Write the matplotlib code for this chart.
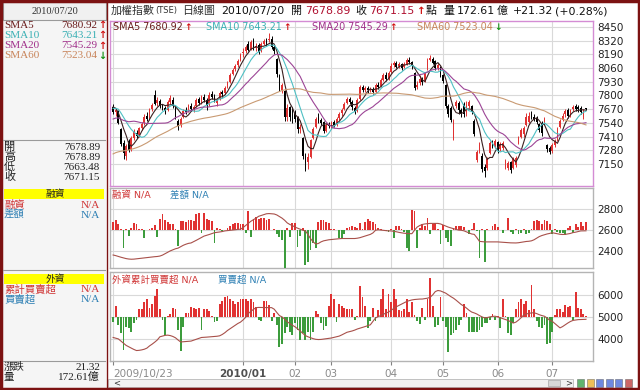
import numpy as np
import pandas as pd
import matplotlib
matplotlib.use('Agg')
import matplotlib.pyplot as plt
from matplotlib.patches import Rectangle

plt.rcParams['font.family'] = ['DejaVu Sans', 'Noto Sans CJK TC']

# ---------------- data ----------------
monthLabels = ['2009/10/23', '', '', '2010/01', '02', '03', '04', '05', '06', '07']
monthDays = [6, 21, 23, 20, 14, 23, 20, 21, 21, 14]

# closes before the visible window (only used to warm up the moving averages)
priorCloses = [6950, 7078,
               7000, 7020, 7080, 7050, 7000, 7010, 6950, 6920, 6880, 6850, 6780,
               6700, 6750, 6820, 6880, 6950, 7000, 6950, 6980, 6900, 6880,
               6850, 6900, 6950, 7050, 7150, 7200, 7250, 7300, 7350, 7400, 7450,
               7480, 7500, 7550, 7520, 7470, 7450, 7480, 7520, 7550, 7509,
               7450, 7400, 7350, 7400, 7500, 7600, 7650, 7620, 7700, 7650, 7700,
               7720, 7750, 7700, 7640]

opens = [7690, 7640, 7650, 7480, 7350, 7230,
         7370, 7290, 7400, 7440, 7420, 7490, 7540, 7610, 7580, 7670, 7800, 7730, 7750, 7700, 7680,
         7660, 7740, 7760, 7690, 7560, 7520,
         7600, 7660, 7650, 7700, 7660, 7700, 7770, 7730, 7790, 7760, 7720, 7810, 7790, 7730, 7770,
         7830, 7820, 7880, 7930, 8000, 8050, 8090, 8140,
         8200, 8220, 8290, 8240, 8330, 8250, 8280, 8220, 8290, 8320, 8330, 8340, 8260, 8150, 7990,
         7850, 7840, 7600, 7690, 7650,
         7620, 7600, 7480, 7400, 7230, 7170, 7220, 7400, 7500, 7600, 7570, 7550, 7460, 7520,
         7510, 7550, 7530, 7590, 7630, 7670, 7730, 7770, 7740, 7680, 7650, 7770, 7880, 7850, 7870,
         7850, 7860, 7830, 7900, 7890, 7950, 7990, 7960,
         8020, 8090, 8110, 8080, 8100, 8070, 8100, 8140, 8120, 8010, 7880, 7920, 7960, 7940, 8050,
         8140, 8150, 8130, 8060, 8060,
         7990, 7900, 7700, 7680, 7400, 7700, 7730, 7660, 7720, 7620, 7700, 7700, 7560, 7190, 7270,
         7230, 7120, 7110, 7250, 7350, 7320,
         7360, 7290, 7300, 7120, 7110, 7170, 7110, 7140, 7350, 7410, 7430, 7520, 7550, 7620, 7600,
         7590, 7530, 7540, 7530, 7330, 7300,
         7270, 7330, 7380, 7500, 7570, 7620, 7660, 7620, 7670, 7700, 7690, 7680, 7600, 7678.89]

highs = [7720, 7680, 7660, 7490, 7380, 7340,
         7390, 7420, 7480, 7470, 7500, 7550, 7620, 7640, 7680, 7730, 7850, 7790, 7770, 7720, 7700,
         7760, 7800, 7790, 7700, 7580, 7600,
         7670, 7690, 7720, 7730, 7710, 7780, 7790, 7800, 7810, 7780, 7830, 7840, 7810, 7780, 7840,
         7850, 7890, 7940, 8010, 8060, 8100, 8150, 8200,
         8250, 8280, 8320, 8330, 8350, 8300, 8300, 8310, 8340, 8350, 8395, 8360, 8280, 8160, 8000,
         7920, 7850, 7720, 7700, 7690,
         7660, 7610, 7530, 7410, 7250, 7250, 7390, 7500, 7600, 7630, 7590, 7560, 7540, 7550,
         7560, 7570, 7600, 7640, 7680, 7740, 7790, 7790, 7760, 7700, 7780, 7900, 7900, 7890, 7890,
         7880, 7880, 7920, 7930, 7970, 8010, 8020, 8030,
         8110, 8130, 8130, 8120, 8110, 8120, 8160, 8170, 8130, 8020, 7940, 7990, 7980, 8020, 8160,
         8180, 8170, 8140, 8110, 8080,
         8000, 7910, 7720, 7700, 7580, 7760, 7750, 7680, 7740, 7750, 7760, 7710, 7580, 7280, 7360,
         7250, 7150, 7220, 7370, 7380, 7390,
         7370, 7360, 7370, 7200, 7180, 7180, 7220, 7230, 7420, 7490, 7510, 7630, 7640, 7650, 7620,
         7610, 7540, 7560, 7600, 7340, 7320,
         7350, 7390, 7500, 7580, 7630, 7670, 7680, 7670, 7710, 7720, 7710, 7700, 7670, 7678.89]

lows = [7620, 7610, 7530, 7320, 7200, 7190,
        7260, 7270, 7380, 7400, 7410, 7470, 7520, 7560, 7570, 7650, 7710, 7700, 7680, 7660, 7620,
        7650, 7720, 7680, 7580, 7470, 7500,
        7590, 7620, 7640, 7650, 7640, 7690, 7710, 7720, 7740, 7660, 7700, 7770, 7740, 7700, 7760,
        7790, 7810, 7870, 7920, 7990, 8030, 8070, 8130,
        8170, 8200, 8220, 8230, 8230, 8220, 8190, 8210, 8280, 8270, 8310, 8240, 8190, 7980, 7840,
        7820, 7560, 7560, 7560, 7540,
        7550, 7440, 7440, 7200, 7080, 7100, 7210, 7390, 7490, 7540, 7520, 7440, 7450, 7490,
        7480, 7500, 7510, 7570, 7610, 7660, 7720, 7720, 7660, 7620, 7640, 7760, 7830, 7830, 7820,
        7830, 7810, 7820, 7860, 7880, 7940, 7940, 7950,
        8010, 8070, 8060, 8060, 8040, 8060, 8090, 8100, 8050, 7850, 7860, 7900, 7900, 7930, 8040,
        8130, 8100, 8040, 8040, 7980,
        7920, 7680, 7600, 7550, 7380, 7680, 7620, 7600, 7600, 7610, 7680, 7620, 7420, 7170, 7250,
        7070, 7030, 7090, 7240, 7300, 7300,
        7250, 7270, 7280, 7100, 7090, 7060, 7100, 7120, 7340, 7400, 7410, 7510, 7540, 7580, 7560,
        7530, 7450, 7420, 7520, 7260, 7240,
        7250, 7310, 7370, 7490, 7560, 7600, 7590, 7600, 7650, 7650, 7640, 7620, 7580, 7663.48]

closes = [7645, 7660, 7540, 7340, 7250, 7320,
          7280, 7400, 7460, 7420, 7490, 7530, 7600, 7580, 7660, 7710, 7720, 7760, 7700, 7690, 7650,
          7740, 7780, 7700, 7600, 7510, 7580,
          7650, 7640, 7700, 7670, 7690, 7760, 7730, 7780, 7760, 7710, 7800, 7790, 7760, 7760, 7820,
          7810, 7870, 7920, 7990, 8040, 8080, 8130, 8188,
          8210, 8260, 8230, 8310, 8250, 8270, 8210, 8290, 8320, 8300, 8340, 8260, 8220, 8000, 7860,
          7900, 7600, 7680, 7600, 7640,
          7580, 7480, 7500, 7230, 7160, 7220, 7380, 7480, 7580, 7560, 7540, 7460, 7520, 7510,
          7540, 7520, 7580, 7620, 7660, 7720, 7770, 7740, 7690, 7640, 7760, 7880, 7850, 7870, 7850,
          7860, 7830, 7900, 7880, 7950, 7990, 7960, 8010,
          8080, 8110, 8070, 8100, 8060, 8100, 8140, 8120, 8080, 7870, 7900, 7960, 7930, 8000, 8140,
          8160, 8110, 8060, 8090, 8000,
          7940, 7700, 7620, 7570, 7560, 7740, 7660, 7620, 7620, 7720, 7740, 7640, 7430, 7260, 7330,
          7100, 7080, 7200, 7350, 7330, 7370,
          7280, 7340, 7350, 7180, 7160, 7090, 7200, 7210, 7400, 7470, 7490, 7600, 7610, 7600, 7580,
          7550, 7470, 7440, 7580, 7290, 7260,
          7330, 7370, 7480, 7560, 7610, 7650, 7610, 7650, 7690, 7670, 7670, 7640, 7650, 7671.15]

# 融資 panel: bar offsets from the base level and the line
marginBase = 2600
marginBars = [80, 100, 60, 15, -170, 10, -55, 20, 65, 60,
              15, 10, -70, 5, 10, 20, 50, -65, 110, 150,
              100, 75, 55, 60, 10, -145, 85, 90, 80, 95,
              100, 85, 155, 160, -30, 160, 105, 100, 85, -120,
              25, 10, -10, 5, 20, 40, 55, 65, 70, 60,
              60, -25, 180, -65, 105, 125, 110, 115, 115, 100,
              110, 5, 15, -40, -60, -90, -360, 20, -65, 65,
              65, -155, -55, 20, -330, -300, -185, -120, -170, 75,
              100, 95, 80, 70, 15, 10, 5, -70, -70, -40,
              25, 30, 40, 35, 20, 65, 10, 75, 105, 90,
              80, 60, 20, 10, 5, -10, -20, 15, -75, 40,
              45, 10, -20, -170, -200, 195, 180, -170, 20, 60,
              40, 120, -40, 60, 65, 15, -127, 52, -70, -110,
              -150, 20, 40, 45, 40, 35, 5, -40, 15, 68,
              -5, -267, 10, -300, 10, 5, 45, 55, 30, 5,
              -23, 5, 117, -20, -40, 10, -35, -30, 10, -40,
              -30, 15, 90, 95, 90, 60, 95, 90, 60, -40,
              10, -20, -30, -30, -45, 20, 40, -30, 60, 30,
              80, 45, 80]
marginLine = [2366, 2360, 2352, 2345, 2338, 2332, 2328, 2326, 2327, 2330,
              2333, 2336, 2340, 2342, 2345, 2348, 2350, 2352, 2356, 2365,
              2378, 2392, 2405, 2415, 2425, 2431, 2445, 2458, 2468, 2476,
              2480, 2492, 2505, 2518, 2530, 2545, 2552, 2560, 2568, 2577,
              2580, 2584, 2588, 2594, 2597, 2600, 2603, 2606, 2608, 2610,
              2625, 2645, 2665, 2685, 2700, 2715, 2732, 2740, 2748, 2756,
              2758, 2756, 2754, 2745, 2730, 2715, 2695, 2670, 2655, 2645,
              2630, 2620, 2610, 2600, 2594, 2560, 2520, 2490, 2470, 2475,
              2490, 2500, 2505, 2510, 2512, 2515, 2518, 2520, 2522, 2522,
              2522, 2522, 2522, 2522, 2525, 2530, 2538, 2545, 2555, 2561,
              2575, 2600, 2605, 2602, 2598, 2596, 2594, 2594, 2590, 2586,
              2580, 2576, 2572, 2570, 2568, 2568, 2600, 2630, 2645, 2655,
              2660, 2663, 2665, 2665, 2665, 2665, 2660, 2650, 2640, 2630,
              2622, 2615, 2608, 2602, 2600, 2595, 2585, 2575, 2565, 2561,
              2530, 2495, 2492, 2490, 2490, 2490, 2490, 2490, 2490, 2488,
              2486, 2484, 2482, 2481, 2480, 2480, 2482, 2486, 2490, 2494,
              2496, 2500, 2510, 2525, 2540, 2550, 2558, 2565, 2570, 2577,
              2572, 2566, 2562, 2560, 2561, 2565, 2570, 2578, 2582, 2588,
              2594, 2594, 2595]

# 外資 panel
foreignBase = 5000
foreignBars = [-250, 500, -360, -750, -1500, -440, -515, -670, -280, -125,
               340, 340, 655, 810, 420, 580, 970, 1280, 340, -125,
               -830, 30, 110, 420, 375, -590, -1530, -440, 190, 190,
               470, 420, 375, 420, -590, 375, 340, 265, 30, -250,
               -200, 580, 730, 890, 970, 810, 730, 580, 655, 810,
               810, 810, 730, 810, 655, 470, -125, -200, 730, 730,
               530, -200, 155, -360, -1370, -1220, -750, -440, -670, -830,
               -280, -590, -1030, -750, -1030, -670, -1030, -670, 265, 110,
               -280, -590, -400, 500, 1045, 810, -250, 580, 500, 420,
               375, 375, 340, -125, 30, 1390, 890, 500, -515, -200,
               420, -200, 300, 810, 1280, 340, 1045, 655, 1280, 810,
               310, 265, 340, 810, 200, 655, 100, -200, -310, 420,
               -125, 810, 1780, 500, -470, -360, 890, -200, -440, -1575,
               -830, -750, -590, -360, -150, 580, 190, -670, -670, -670,
               -670, -590, -440, -280, -280, -125, 110, -125, 30, -515,
               810, 30, -750, -830, -280, 340, 655, 810, 580, 730,
               300, 1435, 340, -200, -440, -515, -360, -1250, -1185, -670,
               80, 340, 340, 200, 530, 470, 500, -125, 1120, 420,
               340, 110, 60]
foreignLine = [4064, 4030, 4000, 3900, 3800, 3705, 3640, 3580, 3520, 3470,
               3480, 3500, 3530, 3580, 3680, 3760, 3850, 3950, 4095, 4130,
               4160, 4170, 4150, 4110, 4050, 3950, 3860, 3870, 3880, 3890,
               3900, 3940, 3980, 4020, 4064, 4070, 4080, 4090, 4095, 4110,
               4120, 4140, 4200, 4280, 4380, 4460, 4540, 4620, 4700, 4760,
               4860, 4980, 5150, 5250, 5340, 5420, 5430, 5430, 5425, 5420,
               5420, 5420, 5350, 5200, 5060, 5000, 4900, 4780, 4700, 4620,
               4550, 4460, 4360, 4250, 4150, 4095, 4050, 4010, 3980, 3970,
               3975, 3990, 4000, 4017, 4040, 4070, 4100, 4126, 4180, 4240,
               4300, 4330, 4360, 4400, 4450, 4485, 4520, 4560, 4600, 4640,
               4800, 4953, 5010, 5060, 5120, 5170, 5220, 5300, 5380, 5460,
               5520, 5580, 5640, 5700, 5740, 5770, 5790, 5800, 5810, 5811,
               5830, 5850, 5890, 6000, 6150, 6200, 6180, 6130, 6080, 6000,
               5920, 5850, 5760, 5660, 5560, 5490, 5400, 5300, 5220, 5180,
               5130, 5060, 5000, 4953, 4970, 5000, 5020, 5030, 5000, 4960,
               4920, 4880, 4840, 4780, 4720, 4760, 4850, 4960, 5080, 5130,
               5160, 5180, 5187, 5150, 5100, 5060, 5030, 4950, 4850, 4800,
               4700, 4600, 4500, 4560, 4640, 4720, 4790, 4840, 4860, 4875,
               4880, 4885, 4890]

priceTicks = [7150, 7280, 7410, 7540, 7670, 7800, 7930, 8060, 8190, 8320, 8450]
marginTicks = [2400, 2600, 2800]
foreignTicks = [4000, 5000, 6000]

smaPeriods = [5, 10, 20, 60]
smaValues = ['7680.92', '7643.21', '7545.29', '7523.04']
smaRising = [True, True, True, False]

W, H = 640, 390
RED = '#e03232'
GREEN = '#3c9c3c'
DARKRED = '#7c1212'
lineColors = ['#3a2020', '#4ec0c4', '#9c4596', '#c99a72']
textColors = ['#6a1c1c', '#3ab0b4', '#a0308a', '#c8845a']
serif = ['Liberation Serif', 'Noto Sans CJK TC']


def axRect(left, top, right, bottom):
    return [left / W, 1 - bottom / H, (right - left) / W, (bottom - top) / H]


def setupPanel(ax, ticks, ylim, edge, tickIdx):
    ax.set_xlim(-1.2, len(closes) + 1.7)
    ax.set_ylim(*ylim)
    ax.yaxis.tick_right()
    ax.set_yticks(ticks)
    ax.tick_params(axis='y', length=0, pad=3, labelsize=7.5, labelcolor='#222222')
    ax.set_xticks(tickIdx)
    ax.grid(True, color='#d9d9d9', lw=0.8)
    ax.set_axisbelow(True)
    for s in ax.spines.values():
        s.set_color(edge)
        s.set_linewidth(1.0)


def arrowText(ax, x, y, up, size=7):
    return ax.text(x, y, '↑' if up else '↓', va='center', fontsize=size, fontweight='bold',
                   color='#d01010' if up else '#109010')


def main():
    for name, arr in [('opens', opens), ('highs', highs), ('lows', lows),
                      ('marginBars', marginBars), ('marginLine', marginLine),
                      ('foreignBars', foreignBars), ('foreignLine', foreignLine)]:
        assert len(arr) == len(closes), (name, len(arr), len(closes))

    fig = plt.figure(figsize=(W / 100, H / 100), dpi=100, facecolor='white')
    renderer = fig.canvas.get_renderer()

    def rightEdge(t):
        return t.get_window_extent(renderer).x1

    x = np.arange(len(closes))
    starts = np.cumsum([0] + monthDays[:-1])
    tickIdx = [s for s, lab in zip(starts, monthLabels) if lab]
    tickLab = [lab for lab in monthLabels if lab]

    # ---------- price panel ----------
    axP = fig.add_axes(axRect(110, 21, 593, 186))
    setupPanel(axP, priceTicks, (6941, 8507), '#d48cd4', tickIdx)
    axP.tick_params(axis='x', length=0, labelbottom=False)

    o = np.array(opens); h = np.array(highs); l = np.array(lows); c = np.array(closes)
    candleColors = np.where(c >= o, RED, '#000000')
    axP.vlines(x, l, h, colors=candleColors, lw=0.7, zorder=3)
    axP.bar(x, np.maximum(np.abs(c - o), 6), bottom=np.minimum(o, c), width=0.66,
            color=candleColors, lw=0, zorder=3)

    allCloses = pd.Series(priorCloses + closes, dtype=float)
    for period, col in zip(smaPeriods, lineColors):
        sma = allCloses.rolling(period).mean().iloc[len(priorCloses):].to_numpy()
        axP.plot(x, sma, color=col, lw=0.8, zorder=4)

    # ---------- 融資 panel ----------
    axM = fig.add_axes(axRect(110, 188, 593, 268))
    setupPanel(axM, marginTicks, (2243, 3000), '#b4b4b4', tickIdx)
    axM.tick_params(axis='x', length=0, labelbottom=False)
    mb = np.array(marginBars, dtype=float)
    axM.bar(x, mb, bottom=marginBase, width=0.7, color=np.where(mb >= 0, RED, GREEN),
            lw=0, zorder=3)
    axM.plot(x, marginLine, color='#a8504a', lw=0.8, zorder=4)

    # ---------- 外資 panel ----------
    axF = fig.add_axes(axRect(110, 272, 593, 361))
    setupPanel(axF, foreignTicks, (2995, 7040), '#b4b4b4', tickIdx)
    fb = np.array(foreignBars, dtype=float)
    axF.bar(x, fb, bottom=foreignBase, width=0.7, color=np.where(fb >= 0, RED, GREEN),
            lw=0, zorder=3)
    axF.plot(x, foreignLine, color='#a8504a', lw=0.8, zorder=4)
    axF.set_xticklabels(tickLab)
    axF.tick_params(axis='x', length=3, width=0.8, color='#808080', pad=3,
                    labelsize=7.5, labelcolor='#8a8a8a')
    xl = axF.get_xticklabels()
    xl[0].set_horizontalalignment('left')
    xl[1].set_fontweight('bold')
    xl[1].set_color('#505050')

    # ---------- overlay in pixel coordinates ----------
    ov = fig.add_axes([0, 0, 1, 1], zorder=10)
    ov.set_xlim(0, W)
    ov.set_ylim(H, 0)
    ov.axis('off')

    # left info panel
    ov.add_patch(Rectangle((2, 2), 104, 386, fc='#f5f5f5', ec='none'))
    ov.add_patch(Rectangle((3, 2), 103, 18, fc='#f0f0f0', ec='#9a9a9a', lw=0.8))
    ov.text(55, 11, '2010/07/20', ha='center', va='center', fontsize=7.5,
            family=serif, color='#333333')
    rowsY = [25, 35.5, 46, 56]
    for i in range(4):
        ov.text(4, rowsY[i], 'SMA%d' % smaPeriods[i], va='center', fontsize=8,
                family=serif, color=textColors[i])
        ov.text(97, rowsY[i], smaValues[i], va='center', ha='right', fontsize=8,
                family=serif, color=textColors[i])
        arrowText(ov, 98, rowsY[i], smaRising[i])

    ov.plot([3, 105], [140, 140], color='#9a9a9a', lw=0.8)
    for y, lab, val in zip([147, 157, 167, 177], ['開', '高', '低', '收'],
                           ['7678.89', '7678.89', '7663.48', '7671.15']):
        ov.text(4, y, lab, va='center', fontsize=8, color='#222222')
        ov.text(100, y, val, va='center', ha='right', fontsize=8, family=serif, color='#222222')

    for top, title in [(189, '融資'), (274, '外資')]:
        ov.add_patch(Rectangle((4, top), 100, 10, fc='#ffff00', ec='none'))
        ov.text(55, top + 5, title, ha='center', va='center', fontsize=7, color='#222222')
    for y, lab, col in [(205, '融資', '#d03838'), (215, '差額', '#2f80b4'),
                        (290, '累計買賣超', '#d03838'), (300, '買賣超', '#2f80b4')]:
        ov.text(4, y, lab, va='center', fontsize=7.5, color=col)
        ov.text(100, y, 'N/A', va='center', ha='right', fontsize=8, family=serif, color=col)
    ov.plot([3, 105], [270, 270], color='#9a9a9a', lw=0.8)
    ov.plot([3, 105], [361, 361], color='#9a9a9a', lw=0.8)
    ov.text(4, 367, '漲跌', va='center', fontsize=7.5, color='#222222')
    ov.text(100, 367, '21.32', va='center', ha='right', fontsize=8, family=serif, color='#222222')
    ov.text(4, 377, '量', va='center', fontsize=7.5, color='#222222')
    ov.text(100, 377, '172.61億', va='center', ha='right', fontsize=8, family=serif,
            color='#222222')

    # title line, pieces laid out one after another
    ts = 7.9
    titlePieces = [('加權指數', ts, '#333333', 0), ('(TSE)', 6.0, '#333333', 0),
                   ('日線圖', ts, '#333333', 5), ('2010/07/20', ts, '#111111', 6),
                   ('開', ts, '#111111', 7), ('7678.89', ts, '#b01030', 3),
                   ('收', ts, '#111111', 5), ('7671.15', ts, '#b01030', 3)]
    cursor = 111
    for txt, size, col, gap in titlePieces:
        t = ov.text(cursor + gap, 11, txt, va='center', fontsize=size, color=col)
        cursor = rightEdge(t)
    t = arrowText(ov, cursor + 2, 11, True, size=7.5)
    cursor = rightEdge(t)
    tailPieces = [('點', ts, '#111111', 0), ('量', ts, '#111111', 7),
                  ('172.61', ts, '#111111', 2), ('億', ts, '#111111', 2),
                  ('+21.32', ts, '#111111', 5), ('(+0.28%)', ts, '#111111', 2)]
    for txt, size, col, gap in tailPieces:
        t = ov.text(cursor + gap, 11, txt, va='center', fontsize=size, color=col)
        cursor = rightEdge(t)

    # moving average legend inside the price panel
    legendX = [113, 206, 312, 417]
    for i in range(4):
        t = ov.text(legendX[i], 27, 'SMA%d %s' % (smaPeriods[i], smaValues[i]), va='center',
                    fontsize=6.9, color=textColors[i])
        arrowText(ov, rightEdge(t) + 1.5, 27, smaRising[i], size=6.5)

    # panel titles
    ov.text(112, 195, '融資 N/A', va='center', fontsize=6.8, color='#d03838')
    ov.text(170, 195, '差額 N/A', va='center', fontsize=6.8, color='#2f80b4')
    ov.text(112, 280, '外資累計買賣超 N/A', va='center', fontsize=6.8, color='#d03838')
    ov.text(218, 280, '買賣超 N/A', va='center', fontsize=6.8, color='#2f80b4')

    # scroll bar and tool icons
    ov.add_patch(Rectangle((108, 379), 465, 8, fc='#f2f2f2', ec='#b8b8b8', lw=0.6))
    ov.add_patch(Rectangle((548, 380), 12, 6, fc='#d8d8d8', ec='#a8a8a8', lw=0.5))
    ov.text(113, 383, '<', va='center', fontsize=6, color='#333333')
    ov.text(565, 383, '>', va='center', fontsize=6, color='#333333')
    iconColors = ['#3aa04a', '#e8b030', '#4a6ad8', '#4a6ad8', '#4a6ad8', '#c04040']
    for i, col in enumerate(iconColors):
        ov.add_patch(Rectangle((577 + i * 9.5, 379), 7, 8, fc=col, ec='#555555', lw=0.4,
                               alpha=0.8))

    # outer frame and separators
    ov.plot([107, 107], [0, H], color=DARKRED, lw=1.0)
    ov.add_patch(Rectangle((1, 1), W - 2, H - 2, fill=False, ec=DARKRED, lw=2.5))

    fig.savefig('out.png', dpi=100, facecolor='white')


if __name__ == '__main__':
    main()
